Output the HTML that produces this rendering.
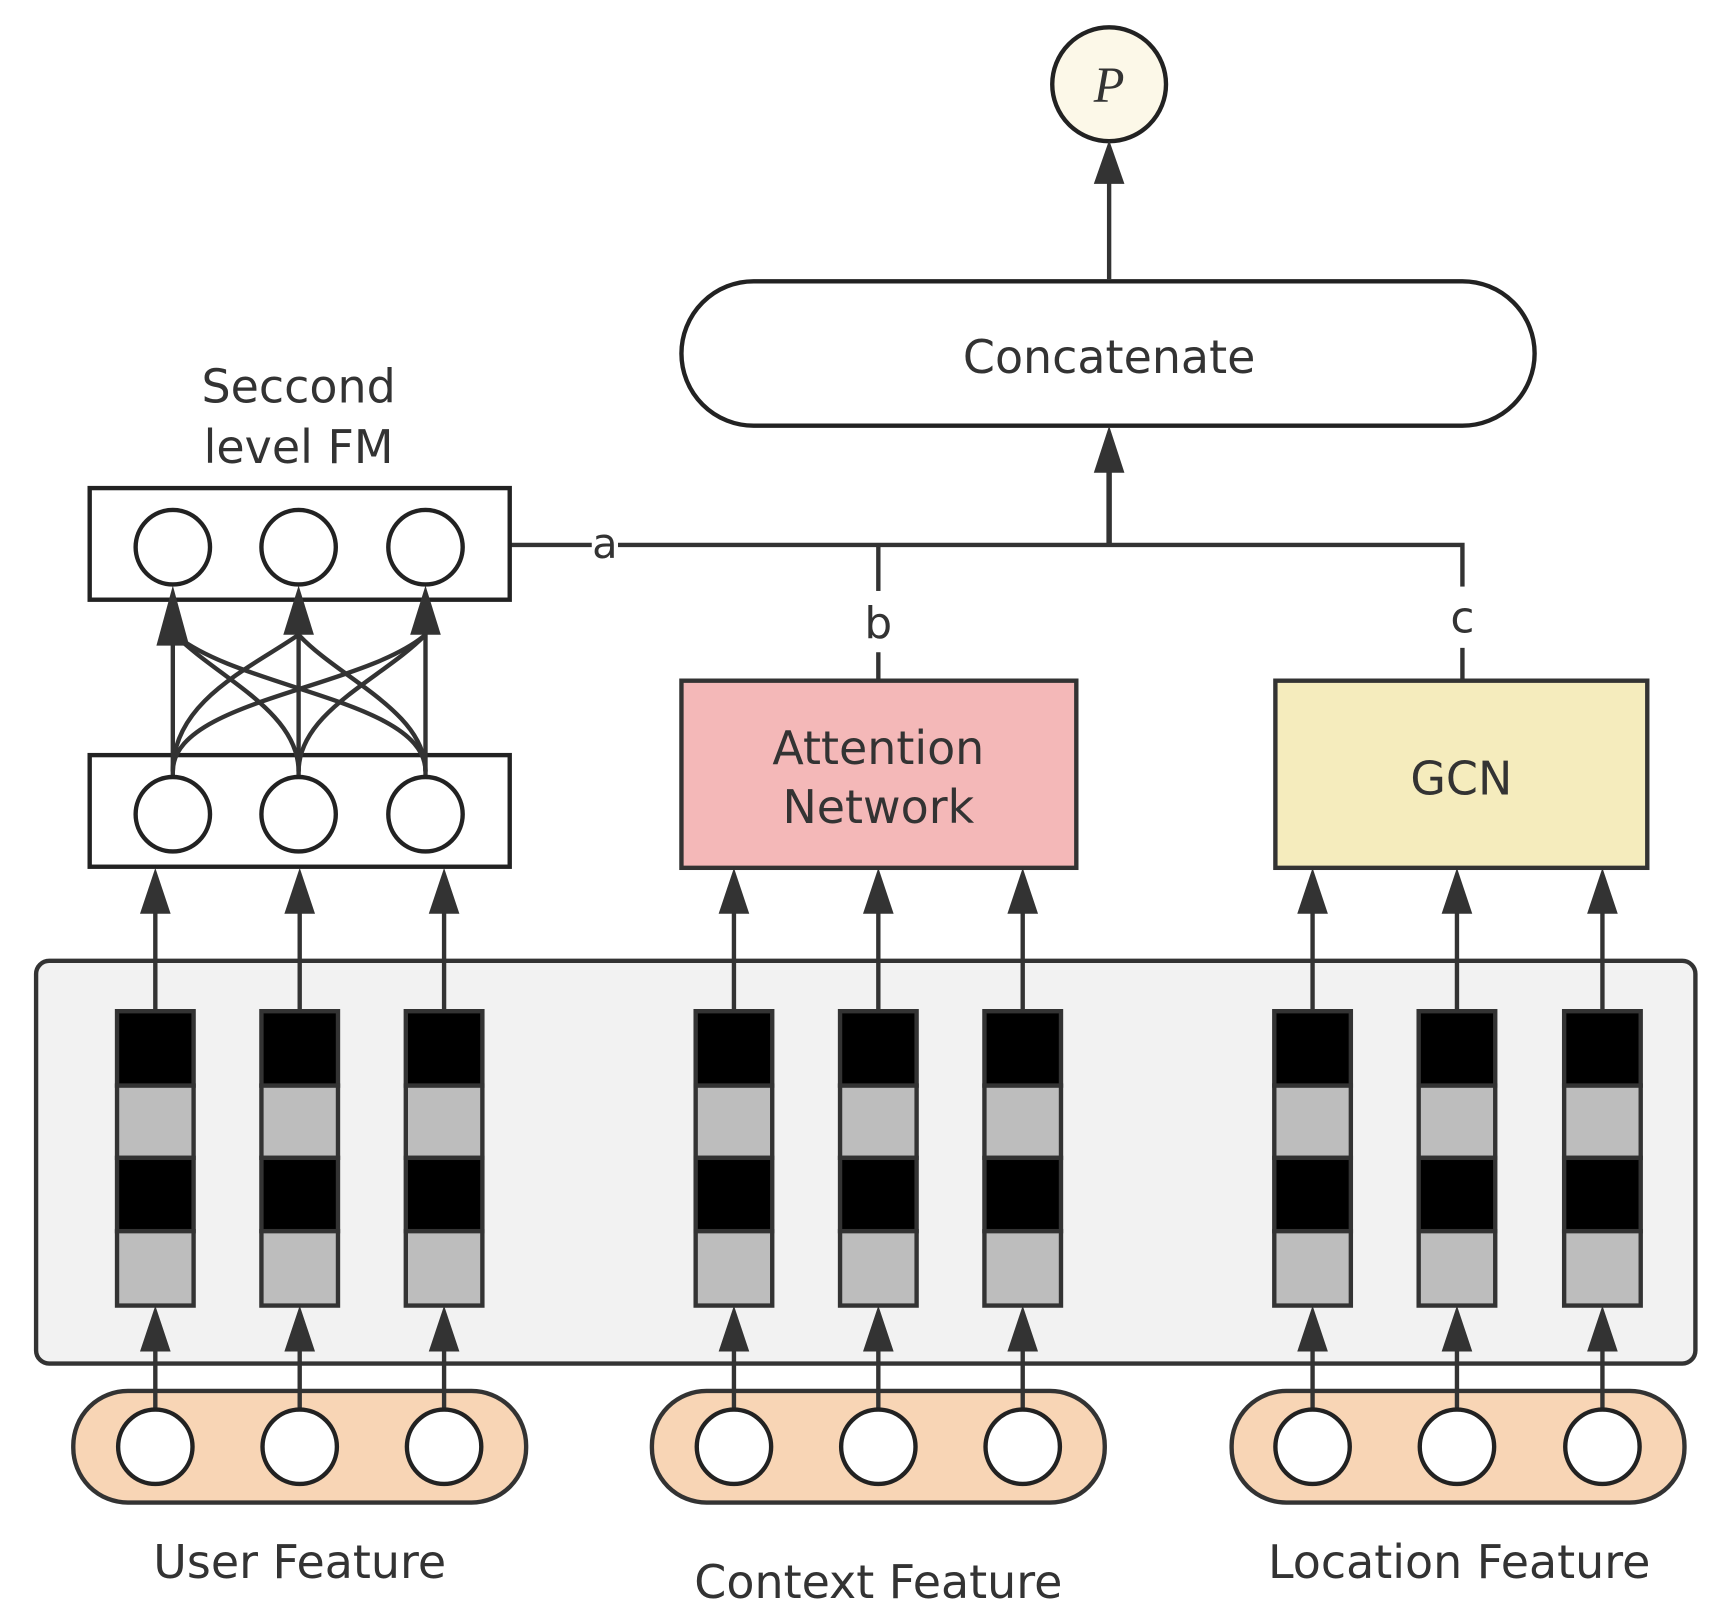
<!DOCTYPE html>
<html><head><meta charset="utf-8"><style>
html,body{margin:0;padding:0;background:#fff;}
svg{display:block;}
text{font-family:"DejaVu Sans","Liberation Sans",sans-serif;fill:#333;}
</style></head><body>
<svg width="1714" height="1612" viewBox="0 0 1567 1473" preserveAspectRatio="none" xmlns="http://www.w3.org/2000/svg">
<defs>
<g id="col">
<line x1="0" y1="922" x2="0" y2="820" stroke="#333" stroke-width="4"/>
<polygon points="0,793 -14,835 14,835" fill="#333"/>
<line x1="0" y1="1290" x2="0" y2="1220" stroke="#333" stroke-width="4"/>
<polygon points="0,1193 -14,1235 14,1235" fill="#333"/>
<rect x="-35" y="924" width="70" height="68" fill="#000" stroke="#333" stroke-width="4"/>
<rect x="-35" y="992" width="70" height="66" fill="#bdbdbd" stroke="#333" stroke-width="4"/>
<rect x="-35" y="1058" width="70" height="67" fill="#000" stroke="#333" stroke-width="4"/>
<rect x="-35" y="1125" width="70" height="68" fill="#bdbdbd" stroke="#333" stroke-width="4"/>
<circle cx="0" cy="1322" r="34" fill="#fff" stroke="#222" stroke-width="4"/>
</g>
</defs>
<g stroke="#333" stroke-width="4" fill="none">
<line x1="1014" y1="255" x2="1014" y2="160"/>
<line x1="1014" y1="498" x2="1014" y2="425" stroke-width="5"/>
<polyline points="467,498 1337,498 1337,622"/>
<line x1="803" y1="498" x2="803" y2="622"/>
</g>
<circle cx="1014" cy="77" r="52" fill="#fcf8e8" stroke="#222" stroke-width="4"/>
<text x="1014" y="93" text-anchor="middle" font-size="46" font-style="italic" style="font-family:'Liberation Serif',serif">P</text>
<polygon points="1014,128 1000,168 1028,168" fill="#333"/>
<rect x="623" y="257" width="780" height="132" rx="66" fill="#fff" stroke="#222" stroke-width="4"/>
<text x="1014" y="341" text-anchor="middle" font-size="42">Concatenate</text>
<polygon points="1014,389 1000,432 1028,432" fill="#333"/>
<rect x="541" y="468" width="24" height="58" fill="#fff"/>
<text x="553" y="510" text-anchor="middle" font-size="38">a</text>
<rect x="790" y="540" width="26" height="56" fill="#fff"/>
<text x="803" y="583" text-anchor="middle" font-size="40">b</text>
<rect x="1324" y="536" width="26" height="56" fill="#fff"/>
<text x="1337" y="578" text-anchor="middle" font-size="40">c</text>
<text x="273" y="368" text-anchor="middle" font-size="42">Seccond</text>
<text x="273" y="423" text-anchor="middle" font-size="42">level FM</text>
<rect x="82" y="446" width="384" height="102" fill="#fff" stroke="#222" stroke-width="4"/>
<rect x="82" y="690" width="384" height="102" fill="#fff" stroke="#222" stroke-width="4"/>
<g stroke="#333" stroke-width="4" fill="none">
<line x1="158" y1="710" x2="158" y2="575"/>
<line x1="273" y1="710" x2="273" y2="575"/>
<line x1="389" y1="710" x2="389" y2="575"/>
<path d="M158,705 C158,640 230,610 273,580"/>
<path d="M158,705 C158,640 330,630 389,580"/>
<path d="M273,705 C273,650 200,620 160,580"/>
<path d="M273,705 C273,650 350,620 389,580"/>
<path d="M389,705 C389,640 220,630 160,580"/>
<path d="M389,705 C389,650 310,620 273,580"/>
</g>
<polygon points="158,535 143,590 173,590" fill="#333"/>
<polygon points="273,535 259,580 287,580" fill="#333"/>
<polygon points="389,535 375,580 403,580" fill="#333"/>
<g fill="#fff" stroke="#222" stroke-width="4">
<circle cx="158" cy="500" r="34"/><circle cx="273" cy="500" r="34"/><circle cx="389" cy="500" r="34"/>
<circle cx="158" cy="744" r="34"/><circle cx="273" cy="744" r="34"/><circle cx="389" cy="744" r="34"/>
</g>
<rect x="623" y="622" width="361" height="171" fill="#f4b8b8" stroke="#333" stroke-width="4"/>
<text x="803" y="698" text-anchor="middle" font-size="42">Attention</text>
<text x="803" y="752" text-anchor="middle" font-size="42">Network</text>
<rect x="1166" y="622" width="340" height="171" fill="#f5ecbd" stroke="#333" stroke-width="4"/>
<text x="1336" y="726" text-anchor="middle" font-size="42">GCN</text>
<rect x="33" y="878" width="1517" height="368" rx="12" fill="#f2f2f2" stroke="#333" stroke-width="4"/>
<g fill="#f8d5b5" stroke="#333" stroke-width="4">
<rect x="67" y="1271" width="414" height="102" rx="50"/>
<rect x="596" y="1271" width="414" height="102" rx="50"/>
<rect x="1126" y="1271" width="414" height="102" rx="50"/>
</g>
<use href="#col" x="142"/>
<use href="#col" x="274"/>
<use href="#col" x="406"/>
<use href="#col" x="671"/>
<use href="#col" x="803"/>
<use href="#col" x="935"/>
<use href="#col" x="1200"/>
<use href="#col" x="1332"/>
<use href="#col" x="1465"/>
<text x="274" y="1442" text-anchor="middle" font-size="42">User Feature</text>
<text x="803" y="1460" text-anchor="middle" font-size="42">Context Feature</text>
<text x="1334" y="1442" text-anchor="middle" font-size="42">Location Feature</text>
</svg>
</body></html>
